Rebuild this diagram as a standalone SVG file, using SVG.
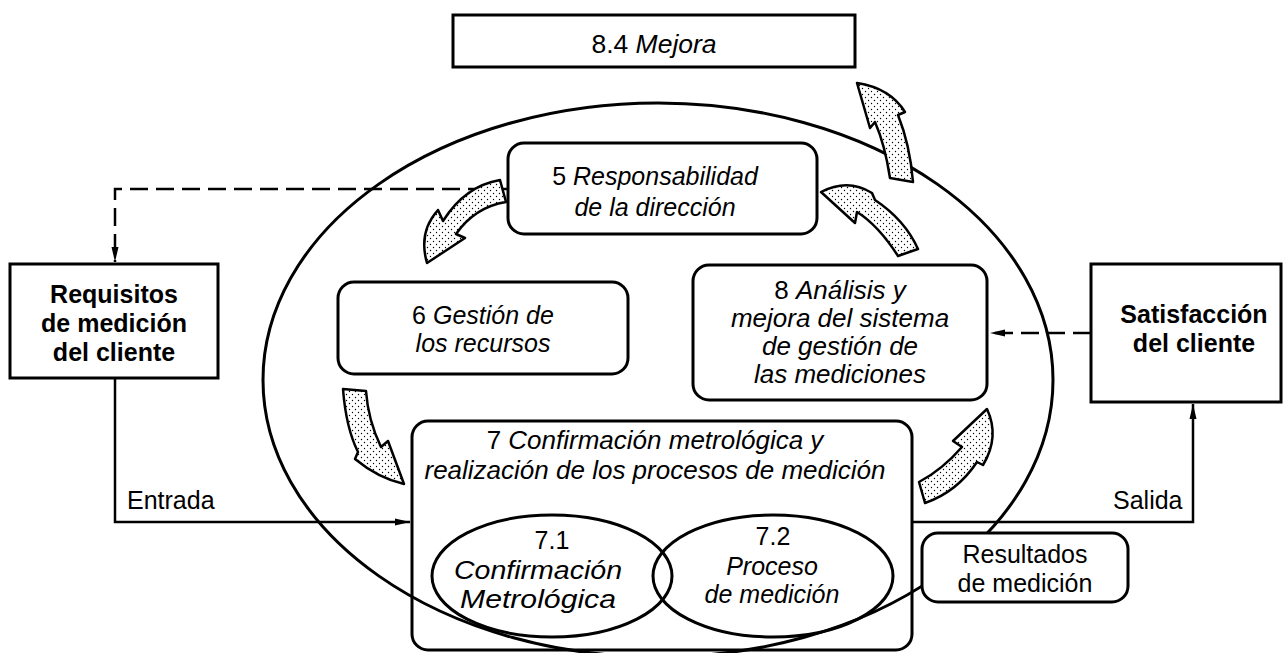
<svg xmlns="http://www.w3.org/2000/svg" width="1286" height="653" viewBox="0 0 1286 653">
<defs>
<pattern id="dots" width="6" height="6" patternUnits="userSpaceOnUse"><rect width="6" height="6" fill="#fff"/><circle cx="1.5" cy="1.5" r="0.7" fill="#000"/><circle cx="4.5" cy="4.5" r="0.7" fill="#000"/></pattern>
<marker id="ah" markerWidth="16" markerHeight="10" refX="15" refY="5" orient="auto" markerUnits="userSpaceOnUse"><path d="M0,1.5 L15,5 L0,8.5 Z" fill="#000"/></marker>
</defs>
<style>
text{font-family:"Liberation Sans",Arial,sans-serif;font-size:25px;fill:#000}
.b{font-weight:bold}
.i{font-style:italic}
.big{font-size:26px}
.box{fill:#fff;stroke:#000;stroke-width:3}
.ol{fill:none;stroke:#000;stroke-width:3}
.ln{fill:none;stroke:#000;stroke-width:2.5}
.dash{fill:none;stroke:#000;stroke-width:2.5;stroke-dasharray:18,8}
.fat{fill:url(#dots);stroke:#000;stroke-width:2.5;stroke-linejoin:round}
</style>
<g id="connectors">
<path class="dash" d="M512,189 H115 V262" marker-end="url(#ah)"/>
<path class="dash" d="M1091,333 H990" marker-end="url(#ah)"/>
<path class="ln" d="M115,378 V522 H410" marker-end="url(#ah)"/>
<path class="ln" d="M912,522 H1193 V404" marker-end="url(#ah)"/>
<text x="127" y="509">Entrada</text>
<text x="1113" y="509">Salida</text>
</g>
<g id="system-ellipse">
<ellipse class="ol" cx="658" cy="380" rx="395" ry="277"/>
</g>
<g id="n84">
<rect class="box" x="453" y="15" width="402" height="52"/>
<text x="654" y="53" text-anchor="middle" style="font-size:26.5px">8.4 <tspan class="i">Mejora</tspan></text>
</g>
<g id="n5">
<rect class="box" x="508" y="143" width="309" height="91" rx="16"/>
<text x="655" y="185" text-anchor="middle">5 <tspan class="i">Responsabilidad</tspan></text>
<text x="655" y="216" text-anchor="middle" class="i">de la dirección</text>
</g>
<g id="n6">
<rect class="box" x="338" y="282" width="290" height="92" rx="16"/>
<text x="483" y="324" text-anchor="middle">6 <tspan class="i">Gestión de</tspan></text>
<text x="483" y="352" text-anchor="middle" class="i">los recursos</text>
</g>
<g id="n8">
<rect class="box" x="693" y="265" width="294" height="135" rx="16"/>
<text x="840" y="299" text-anchor="middle" class="big">8 <tspan class="i">Análisis y</tspan></text>
<text x="840" y="327" text-anchor="middle" class="i big">mejora del sistema</text>
<text x="840" y="355" text-anchor="middle" class="i big">de gestión de</text>
<text x="840" y="383" text-anchor="middle" class="i big">las mediciones</text>
</g>
<g id="n7">
<rect class="ol" x="412" y="421" width="500" height="229" rx="16"/>
<text x="655" y="449" text-anchor="middle" class="big">7 <tspan class="i">Confirmación metrológica y</tspan></text>
<text x="655" y="479" text-anchor="middle" class="i big">realización de los procesos de medición</text>
</g>
<g id="n71">
<ellipse class="ol" cx="552" cy="576" rx="120" ry="61"/>
<text x="552" y="549" text-anchor="middle">7.1</text>
<text x="454" y="579" class="i" textLength="168" lengthAdjust="spacingAndGlyphs">Confirmación</text>
<text x="460" y="608" class="i" textLength="156" lengthAdjust="spacingAndGlyphs">Metrológica</text>
</g>
<g id="n72">
<ellipse class="ol" cx="773" cy="576" rx="120" ry="61"/>
<text x="773" y="545" text-anchor="middle">7.2</text>
<text x="772" y="575" text-anchor="middle" class="i">Proceso</text>
<text x="772" y="603" text-anchor="middle" class="i">de medición</text>
</g>
<g id="nres">
<rect class="box" x="922" y="533" width="206" height="69" rx="16"/>
<text x="1025" y="563" text-anchor="middle">Resultados</text>
<text x="1025" y="592" text-anchor="middle">de medición</text>
</g>
<g id="nreq">
<rect class="box" x="10" y="264" width="208" height="114"/>
<text x="114" y="303" text-anchor="middle" class="b">Requisitos</text>
<text x="114" y="332" text-anchor="middle" class="b">de medición</text>
<text x="114" y="361" text-anchor="middle" class="b">del cliente</text>
</g>
<g id="nsat">
<rect class="box" x="1091" y="264" width="190" height="138"/>
<text x="1194" y="323" text-anchor="middle" class="b">Satisfacción</text>
<text x="1194" y="352" text-anchor="middle" class="b">del cliente</text>
</g>
<g id="cycle-arrows">
<path class="fat" d="M500,180 Q465,186 443,221 L438,210 Q418,232 427,263 L465,238 L456,234 Q475,207 506,202 Z"/>
<path class="fat" d="M343,389 Q346,428 358,452 L355,459 Q378,478 404,484 L388,441 L381,447 Q368,420 366,391 Z"/>
<path class="fat" d="M919,482 Q942,470 962,447 L953,441 L987,409 Q1000,437 983,465 L977,462 Q957,492 925,503 Z"/>
<path class="fat" d="M898,256 Q878,225 857,212 L855,223 L821,192 Q848,178 872,193 L875,200 Q905,220 918,249 Z"/>
<path class="fat" d="M890,178 Q885,145 875,122 L870,128 L857,83 Q890,88 905,112 L898,115 Q910,145 913,182 Z"/>
</g>
</svg>
